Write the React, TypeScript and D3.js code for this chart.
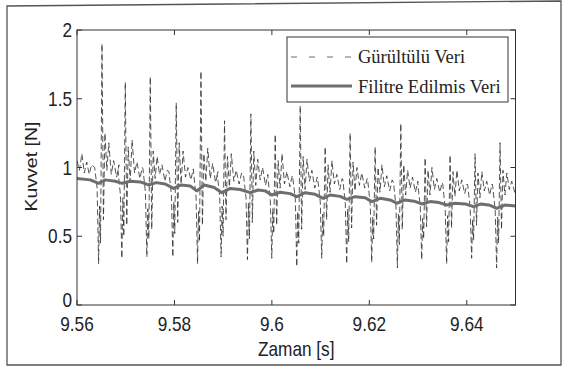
import React from "react";
import * as d3 from "d3";

// ---- data ----
const xTicks = [9.56, 9.58, 9.6, 9.62, 9.64];
const xTickLabels = ["9.56", "9.58", "9.6", "9.62", "9.64"];
const yTicks = [0, 0.5, 1, 1.5, 2];
const yTickLabels = ["0", "0.5", "1", "1.5", "2"];

const legendLabels = ["Gürültülü Veri", "Filitre Edilmis Veri"];

// noisy signal: leading samples before the first impact
const leadTimes = [9.56, 9.5605, 9.561, 9.5615, 9.562, 9.5625, 9.563];
const leadValues = [1.05, 0.98, 1.1, 0.96, 1.04, 0.95, 1.02];

// times of the impact peaks
const spikeTimes = [
  9.56513, 9.56991, 9.57504, 9.58037, 9.58544, 9.59028, 9.59569, 9.60068,
  9.60581, 9.61093, 9.61606, 9.62119, 9.62646, 9.63145, 9.63657, 9.6417,
  9.64683,
];
// sample instants within each cycle, ms relative to the peak
const cycleOffsetsMs = [-1.5, -1.0, -0.7, -0.5, -0.3, 0, 0.3, 0.6, 1.0, 1.4, 1.9, 2.4, 3.0, 3.5];
// samples of each cycle
const cycleValues = [
  [1.0, 0.85, 0.3, 0.72, 0.45, 1.9, 0.62, 1.25, 0.98, 1.18, 0.95, 1.05, 0.93, 1.02],
  [0.98, 0.8, 0.34, 0.78, 0.5, 1.62, 0.58, 1.15, 0.9, 1.2, 0.96, 1.04, 0.92, 1.0],
  [0.99, 0.82, 0.35, 0.7, 0.48, 1.66, 0.55, 1.12, 0.92, 1.08, 0.95, 1.02, 0.9, 0.98],
  [0.97, 0.8, 0.35, 0.75, 0.52, 1.47, 0.6, 1.18, 0.88, 1.12, 0.93, 1.0, 0.91, 0.99],
  [0.96, 0.78, 0.3, 0.68, 0.46, 1.7, 0.58, 1.1, 0.9, 1.14, 0.92, 1.03, 0.89, 0.97],
  [0.95, 0.8, 0.35, 0.72, 0.5, 1.34, 0.62, 1.08, 0.86, 1.1, 0.9, 0.98, 0.88, 0.96],
  [0.94, 0.78, 0.33, 0.74, 0.48, 1.39, 0.6, 1.12, 0.87, 1.06, 0.91, 1.0, 0.87, 0.95],
  [0.93, 0.76, 0.34, 0.7, 0.52, 1.24, 0.58, 1.05, 0.85, 1.1, 0.88, 0.97, 0.86, 0.94],
  [0.92, 0.77, 0.28, 0.68, 0.45, 1.45, 0.55, 1.08, 0.84, 1.06, 0.9, 0.98, 0.85, 0.93],
  [0.91, 0.75, 0.34, 0.66, 0.5, 1.15, 0.62, 1.02, 0.82, 1.05, 0.88, 0.95, 0.84, 0.92],
  [0.91, 0.74, 0.3, 0.7, 0.46, 1.25, 0.56, 1.04, 0.83, 1.0, 0.87, 0.96, 0.85, 0.92],
  [0.9, 0.73, 0.31, 0.64, 0.48, 1.15, 0.58, 1.0, 0.82, 1.02, 0.86, 0.94, 0.83, 0.91],
  [0.89, 0.72, 0.27, 0.66, 0.44, 1.32, 0.55, 1.02, 0.8, 0.98, 0.85, 0.93, 0.82, 0.9],
  [0.88, 0.72, 0.33, 0.63, 0.48, 1.07, 0.57, 0.98, 0.8, 1.0, 0.84, 0.92, 0.82, 0.89],
  [0.88, 0.7, 0.3, 0.65, 0.46, 1.09, 0.56, 0.97, 0.79, 0.98, 0.83, 0.91, 0.81, 0.88],
  [0.87, 0.7, 0.34, 0.62, 0.47, 1.1, 0.58, 0.96, 0.78, 0.97, 0.83, 0.9, 0.8, 0.88],
  [0.86, 0.69, 0.27, 0.64, 0.45, 1.18, 0.55, 0.98, 0.8, 0.96, 0.84, 0.9, 0.82, 0.87],
];

// filtered signal
const filteredTimes = [
  9.56, 9.56273, 9.56443, 9.56581, 9.56786, 9.56923, 9.57092, 9.57297, 9.57469,
  9.57627, 9.57811, 9.57982, 9.58139, 9.58324, 9.58462, 9.58611, 9.58816,
  9.58974, 9.59145, 9.5935, 9.59555, 9.59719, 9.59862, 9.6, 9.6017, 9.60375,
  9.60513, 9.60683, 9.60888, 9.61052, 9.61196, 9.61401, 9.61538, 9.61709,
  9.61914, 9.62051, 9.62222, 9.62427, 9.62564, 9.62734, 9.62919, 9.63077,
  9.63247, 9.63432, 9.6359, 9.6376, 9.63965, 9.64135, 9.64293, 9.64478,
  9.64615, 9.64785, 9.65,
];
const filteredValues = [
  0.92, 0.91, 0.885, 0.91, 0.9, 0.885, 0.9, 0.895, 0.873, 0.89, 0.88, 0.848,
  0.873, 0.865, 0.83, 0.873, 0.855, 0.817, 0.848, 0.84, 0.817, 0.836, 0.83, 0.8,
  0.82, 0.81, 0.788, 0.817, 0.805, 0.776, 0.8, 0.79, 0.768, 0.788, 0.78, 0.752,
  0.776, 0.764, 0.74, 0.764, 0.755, 0.735, 0.752, 0.745, 0.727, 0.74, 0.735,
  0.715, 0.735, 0.725, 0.703, 0.727, 0.72,
];

// ---- layout ----
const W = 564;
const H = 371;
const plot = { left: 77, right: 515.5, top: 30, bottom: 305 };
const SQ = 0.82; // horizontal squeeze of the sans labels

export default function App() {
  const x = d3.scaleLinear().domain([9.56, 9.65]).range([plot.left, plot.right]);
  const y = d3.scaleLinear().domain([0, 2]).range([plot.bottom, plot.top]);

  const noisy: [number, number][] = leadTimes.map((t, i) => [t, leadValues[i]]);
  spikeTimes.forEach((ts, i) => {
    cycleOffsetsMs.forEach((o, j) => {
      noisy.push([ts + o / 1000, cycleValues[i][j]]);
    });
  });
  const filtered: [number, number][] = filteredTimes.map((t, i) => [t, filteredValues[i]]);

  const line = d3
    .line<[number, number]>()
    .x((d) => x(d[0]))
    .y((d) => y(d[1]));

  const tickLen = 5;
  const axisColor = "#333";
  const textColor = "#222";
  const sans = "'Liberation Sans', Arial, sans-serif";
  const serif = "'Liberation Serif', 'Times New Roman', serif";
  const fs = 21;

  const leg = { left: 287, top: 37, right: 508, bottom: 102 };

  const sText = (tx: number, ty: number, s: string, anchor: string, key?: string) => (
    <text
      key={key}
      transform={`translate(${tx},${ty}) scale(${SQ},1)`}
      textAnchor={anchor}
      fontFamily={sans}
      fontSize={fs}
      fill={textColor}
    >
      {s}
    </text>
  );

  return (
    <svg
      width={W}
      height={H}
      style={{ position: "absolute", left: 0, top: 0, background: "#fff" }}
    >
      <rect x={0} y={0} width={W} height={H} fill="#fff" />
      {/* outer frame */}
      <path d="M7,6 L561,1 L561,365 L7,365 Z" fill="none" stroke="#555" strokeWidth={1.3} />

      <defs>
        <clipPath id="plotClip">
          <rect x={plot.left} y={plot.top} width={plot.right - plot.left} height={plot.bottom - plot.top} />
        </clipPath>
      </defs>

      {/* data */}
      <g clipPath="url(#plotClip)">
        <path d={line(noisy) || ""} fill="none" stroke="#2a2a2a" strokeWidth={0.8} strokeDasharray="6,3" />
        <path d={line(filtered) || ""} fill="none" stroke="#6e6e6e" strokeWidth={3} strokeLinejoin="round" />
      </g>

      {/* axes box */}
      <rect
        x={plot.left}
        y={plot.top}
        width={plot.right - plot.left}
        height={plot.bottom - plot.top}
        fill="none"
        stroke={axisColor}
        strokeWidth={1}
      />
      {xTicks.map((t, i) => (
        <g key={"xt" + i}>
          <line x1={x(t)} x2={x(t)} y1={plot.bottom} y2={plot.bottom - tickLen} stroke={axisColor} />
          <line x1={x(t)} x2={x(t)} y1={plot.top} y2={plot.top + tickLen} stroke={axisColor} />
          {sText(x(t), 331, xTickLabels[i], "middle")}
        </g>
      ))}
      {yTicks.map((t, i) => (
        <g key={"yt" + i}>
          <line x1={plot.left} x2={plot.left + tickLen} y1={y(t)} y2={y(t)} stroke={axisColor} />
          <line x1={plot.right} x2={plot.right - tickLen} y1={y(t)} y2={y(t)} stroke={axisColor} />
          {sText(72, t === 0 ? y(t) + 2 : y(t) + 7, yTickLabels[i], "end")}
        </g>
      ))}

      {/* axis labels */}
      {sText((plot.left + plot.right) / 2, 356, "Zaman [s]", "middle")}
      <text
        transform={`translate(37, ${(plot.top + plot.bottom) / 2 - 1}) rotate(-90) scale(1,${SQ})`}
        textAnchor="middle"
        fontFamily={sans}
        fontSize={19.5}
        fill={textColor}
      >
        Kuvvet [N]
      </text>

      {/* legend */}
      <rect
        x={leg.left}
        y={leg.top}
        width={leg.right - leg.left}
        height={leg.bottom - leg.top}
        fill="#fff"
        stroke={axisColor}
        strokeWidth={1}
      />
      <line x1={291} x2={352} y1={57} y2={57} stroke="#444" strokeWidth={0.8} strokeDasharray="6,12" />
      <line x1={291} x2={352} y1={86} y2={86} stroke="#6e6e6e" strokeWidth={3} />
      <text x={358} y={63} fontFamily={serif} fontSize={18.5} fill={textColor}>
        {legendLabels[0]}
      </text>
      <text x={358} y={93} fontFamily={serif} fontSize={18.5} fill={textColor}>
        {legendLabels[1]}
      </text>
    </svg>
  );
}
